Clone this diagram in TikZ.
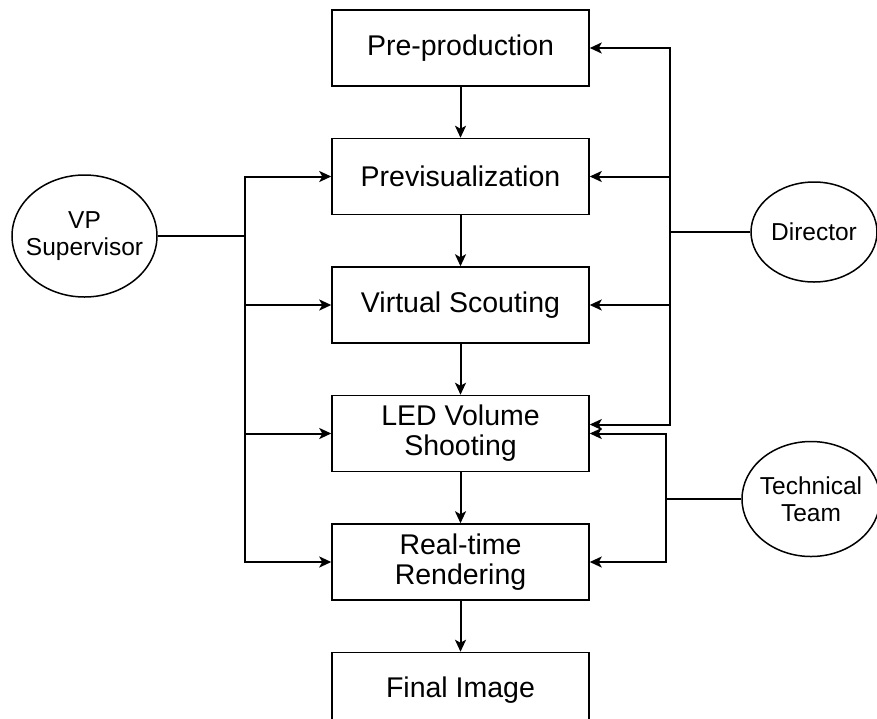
\documentclass[tikz,border=0pt]{standalone}
\usepackage{fontspec}
\setmainfont{Liberation Sans}
\usetikzlibrary{positioning,shapes.geometric,arrows.meta}

\tikzset{
  stage/.style = {draw, line width=1.5pt, minimum width=257pt, minimum height=76pt,
    align=center, inner sep=0pt, font=\fontsize{28.5}{30}\selectfont},
  role/.style = {draw, ellipse, line width=1.5pt, align=center, inner ysep=0pt,
    inner xsep=-30pt, font=\fontsize{24.5}{27}\selectfont},
  link/.style = {line width=2pt},
  flow/.style = {link, -{Stealth[length=12pt,width=11pt,inset=3pt]}}
}

\begin{document}
\begin{tikzpicture}[x=1pt, y=-1pt, node distance=51pt]
\clip (0,0) rectangle (877,718);
% production stages
\node[stage] (pre) at (460.5,48) {Pre-production};
\node[stage, below=of pre] (previs) {Previsualization};
\node[stage, below=of previs] (scout) {Virtual Scouting};
\node[stage, below=of scout] (led) {LED Volume\\Shooting};
\node[stage, below=of led] (render) {Real-time\\Rendering};
\node[stage, below=of render] (final) {Final Image};
% roles
\node[role, minimum width=145pt, minimum height=122pt] (vp) at (84.5,236) {VP\\Supervisor};
\node[role, minimum width=126pt, minimum height=100pt] (dir) at (814,232) {Director};
\node[role, minimum width=138pt, minimum height=115pt] (tech) at (811,499) {Technical\\Team};

\coordinate (vpbus) at (245,0);
\coordinate (dirbus) at (670,0);
\coordinate (techbus) at (666,0);
\coordinate (ledtop) at ([yshift=9pt]led.east);

% main flow
\draw[flow] (pre) -- (previs);
\draw[flow] (previs) -- (scout);
\draw[flow] (scout) -- (led);
\draw[flow] (led) -- (render);
\draw[flow] (render) -- (final);

% VP supervisor
\draw[link] (vp.east) -- (vp.east -| vpbus);
\draw[flow] (vp.east -| vpbus) |- (previs.west);
\draw[flow] (vp.east -| vpbus) |- (render.west);
\foreach \s in {scout,led}
  \draw[flow] (vpbus |- \s) -- (\s.west);

% director
\draw[link] (dir.west) -- (dir.west -| dirbus);
\draw[flow] (dir.west -| dirbus) |- (pre.east);
\draw[flow] (dir.west -| dirbus) |- (ledtop);
\foreach \s in {previs,scout}
  \draw[flow] (dirbus |- \s) -- (\s.east);

% technical team
\draw[link] (tech.west) -- (tech.west -| techbus);
\draw[flow] (tech.west -| techbus) |- (led.east);
\draw[flow] (tech.west -| techbus) |- (render.east);
\end{tikzpicture}
\end{document}
